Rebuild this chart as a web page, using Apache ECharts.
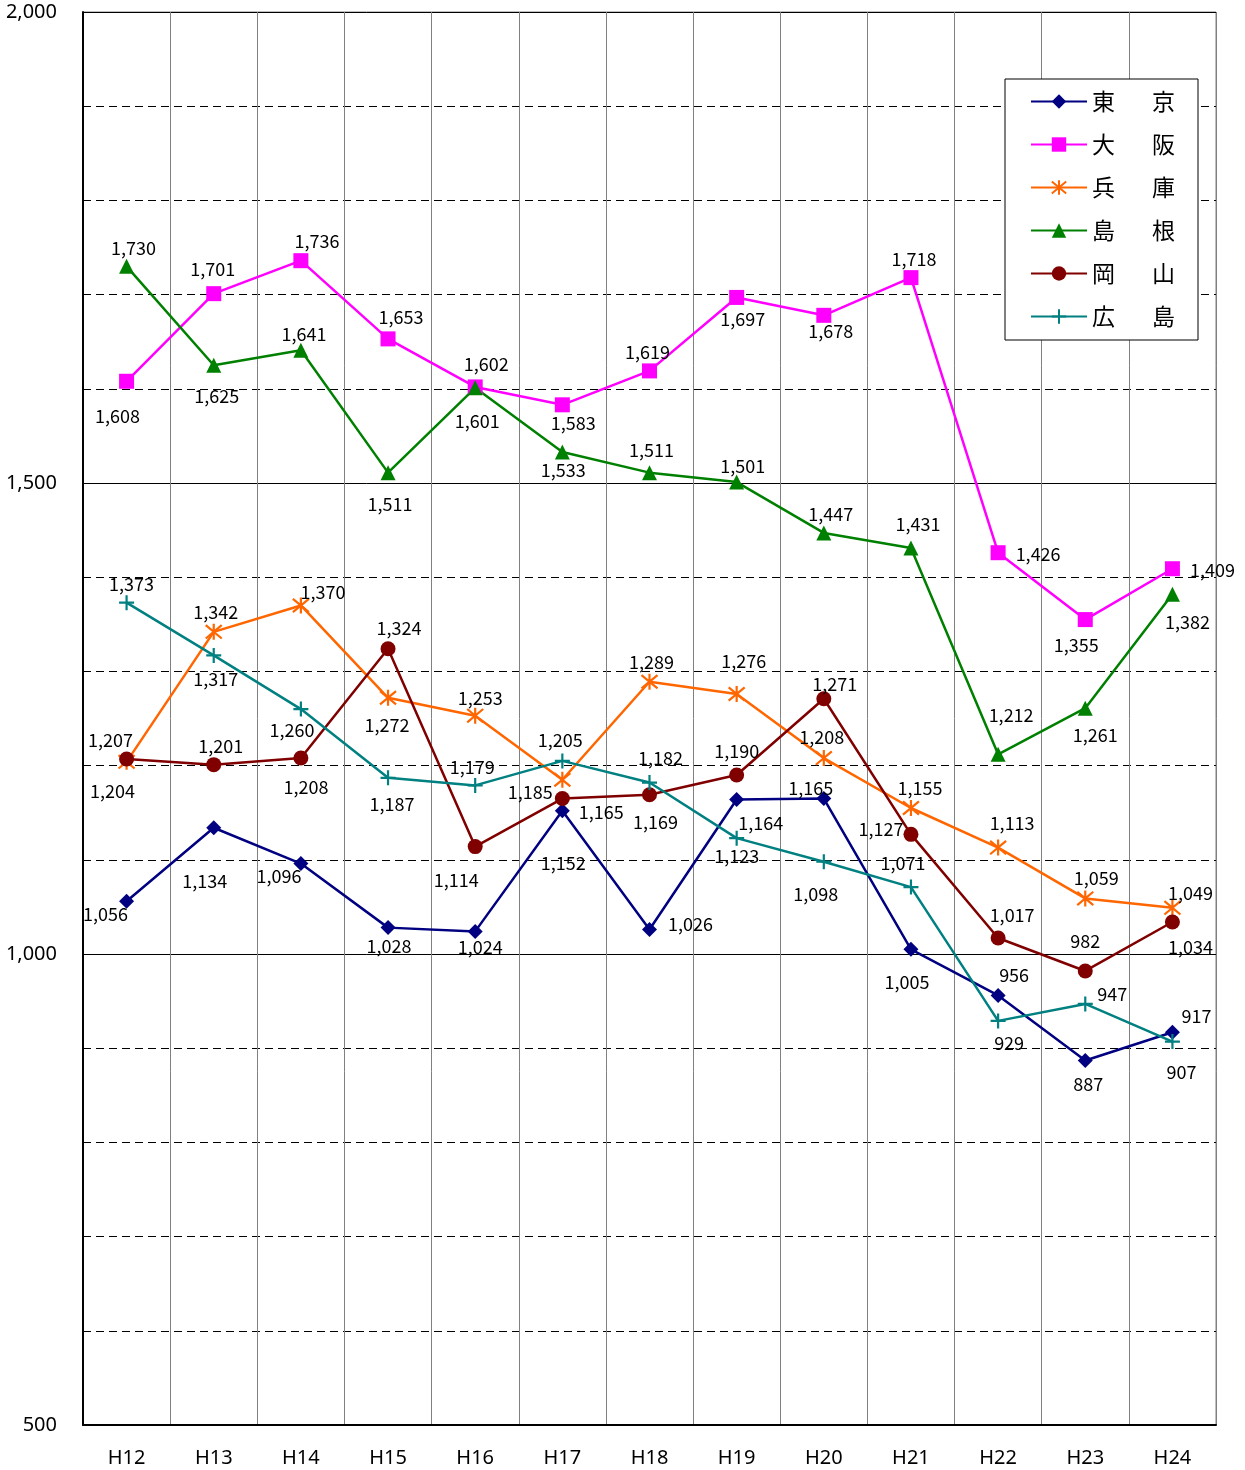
<!DOCTYPE html>
<html>
<head>
<meta charset="utf-8">
<script src="https://cdn.jsdelivr.net/npm/echarts@6/dist/echarts.min.js"></script>
<style>
  html, body { margin: 0; padding: 0; background: #fff; }
  #chart { width: 1245px; height: 1470px; }
</style>
</head>
<body>
<div id="chart"></div>
<script>
const categories = ['H12', 'H13', 'H14', 'H15', 'H16', 'H17', 'H18', 'H19', 'H20', 'H21', 'H22', 'H23', 'H24'];
const names = ['東京', '大阪', '兵庫', '島根', '岡山', '広島'];

const tokyo = [1056, 1134, 1096, 1028, 1024, 1152, 1026, 1164, 1165, 1005, 956, 887, 917];
const osaka = [1608, 1701, 1736, 1653, 1602, 1583, 1619, 1697, 1678, 1718, 1426, 1355, 1409];
const hyogo = [1204, 1342, 1370, 1272, 1253, 1185, 1289, 1276, 1208, 1155, 1113, 1059, 1049];
const shimane = [1730, 1625, 1641, 1511, 1601, 1533, 1511, 1501, 1447, 1431, 1212, 1261, 1382];
const okayama = [1207, 1201, 1208, 1324, 1114, 1165, 1169, 1190, 1271, 1127, 1017, 982, 1034];
const hiroshima = [1373, 1317, 1260, 1187, 1179, 1205, 1182, 1123, 1098, 1071, 929, 947, 907];

// where each value label sits relative to its point [dx, dy]
const tokyoLabelOffset = [[-21, 13], [-9, 53], [-22, 13], [1, 19], [5, 16], [1, 52], [41, -5], [24, 24], [-13, -10], [-4, 33], [16, -20], [3, 24], [24, -16]];
const osakaLabelOffset = [[-9, 35], [-1, -25], [16, -20], [13, -22], [11, -23], [11, 18], [-2, -19], [6, 22], [7, 16], [3, -18], [40, 1], [-9, 26], [40, 1]];
const hyogoLabelOffset = [[-14, 29], [2, -20], [22, -13], [-1, 27], [5, -18], [-32, 12], [2, -20], [7, -33], [-2, -21], [9, -20], [14, -24], [11, -20], [18, -15]];
const shimaneLabelOffset = [[7, -18], [3, 31], [3, -16], [2, 32], [2, 33], [1, 18], [2, -22], [6, -16], [7, -19], [7, -24], [13, -39], [10, 27], [15, 28]];
const okayamaLabelOffset = [[-16, -19], [7, -19], [5, 29], [11, -21], [-19, 34], [39, 14], [6, 27], [0, -24], [11, -15], [-30, -5], [14, -23], [0, -30], [18, 25]];
const hiroshimaLabelOffset = [[5, -18], [2, 24], [-9, 21], [4, 26], [-3, -18], [-2, -21], [11, -24], [0, 18], [-8, 32], [-8, -24], [11, 22], [27, -10], [9, 31]];

const asterisk = 'path://M0,1L10,11M10,1L0,11M5,0L5,12';
const plus = 'path://M5,0L5,10M0,5L10,5';

var chart = echarts.init(document.getElementById('chart'));

function makeSeries(name, values, offsets, color, symbol, size, stroke) {
  return {
    name: name,
    type: 'line',
    data: values.map(function (v, i) {
      return { value: v, label: { offset: offsets[i] } };
    }),
    symbol: symbol,
    symbolSize: size,
    lineStyle: { color: color, width: 2.5 },
    itemStyle: stroke
      ? { color: color, borderColor: color, borderWidth: 2.2 }
      : { color: color, borderWidth: 0 },
    label: {
      show: true,
      position: 'inside',
      color: '#000',
      fontSize: 18,
      fontFamily: 'Noto Sans CJK JP',
      formatter: function (p) { return p.value.toLocaleString('en-US'); }
    },
    emphasis: { disabled: true },
    animation: false
  };
}

var option = {
  backgroundColor: '#fff',
  animation: false,
  grid: {
    left: 83, right: 29, top: 12, bottom: 45,
    show: true,
    borderColor: '#808080',
    borderWidth: 1
  },
  legend: {
    orient: 'vertical',
    left: 1005,
    top: 79,
    padding: [11, 23, 12, 25],
    backgroundColor: '#fff',
    borderColor: '#000',
    borderWidth: 1,
    itemWidth: 56,
    itemHeight: 18,
    itemGap: 20,
    itemTextGap: 5,
    data: names,
    formatter: function (name) {
      return '{a|' + name[0] + '}{b|' + name[1] + '}';
    },
    textStyle: {
      rich: {
        a: { fontSize: 23, fontFamily: 'Noto Sans CJK JP', color: '#000', width: 60, lineHeight: 18 },
        b: { fontSize: 23, fontFamily: 'Noto Sans CJK JP', color: '#000', lineHeight: 18 }
      }
    }
  },
  xAxis: {
    type: 'category',
    data: categories,
    boundaryGap: true,
    axisLine: { lineStyle: { color: '#000', width: 2 } },
    axisTick: { show: false },
    axisLabel: { color: '#000', fontSize: 20, fontFamily: 'Noto Sans', margin: 23 },
    splitLine: { show: true, lineStyle: { color: '#808080', width: 1 } }
  },
  yAxis: [
    {
      type: 'value',
      min: 500,
      max: 2000,
      interval: 100,
      axisLine: { show: true, lineStyle: { color: '#000', width: 2 } },
      axisTick: { show: false },
      axisLabel: {
        color: '#000', fontSize: 20, fontFamily: 'Noto Sans', margin: 26,
        formatter: function (v) { return v % 500 === 0 ? v.toLocaleString('en-US') : ''; }
      },
      splitLine: { show: true, lineStyle: { color: '#000', type: [8, 5], width: 1 } }
    },
    {
      type: 'value',
      min: 500,
      max: 2000,
      interval: 500,
      position: 'left',
      axisLine: { show: false },
      axisTick: { show: false },
      axisLabel: { show: false },
      splitLine: { show: true, lineStyle: { color: '#000', width: 1 } }
    }
  ],
  series: [
    makeSeries('東京', tokyo, tokyoLabelOffset, '#000080', 'diamond', 15, false),
    makeSeries('大阪', osaka, osakaLabelOffset, '#FF00FF', 'rect', 15, false),
    makeSeries('兵庫', hyogo, hyogoLabelOffset, '#FF6600', asterisk, 16, true),
    makeSeries('島根', shimane, shimaneLabelOffset, '#008000', 'triangle', 15, false),
    makeSeries('岡山', okayama, okayamaLabelOffset, '#800000', 'circle', 15, false),
    makeSeries('広島', hiroshima, hiroshimaLabelOffset, '#008080', plus, 15, true)
  ]
};

chart.setOption(option);
</script>
</body>
</html>
